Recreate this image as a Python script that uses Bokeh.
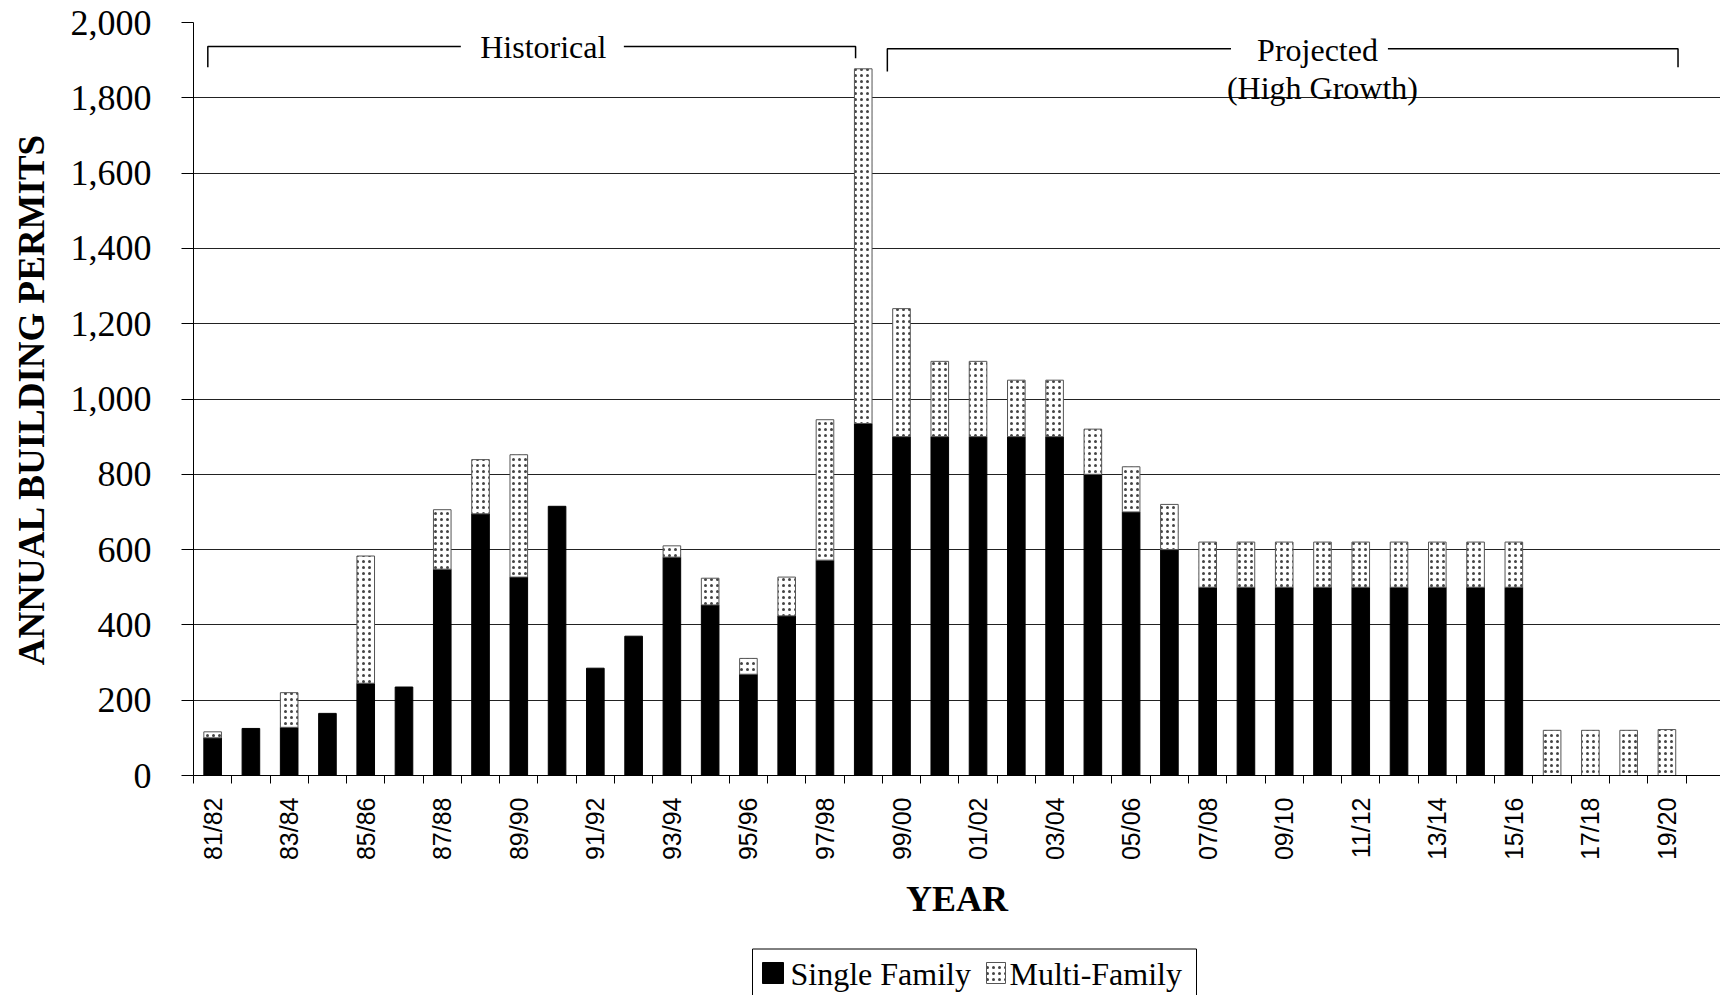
from math import pi

from bokeh.core.properties import value
from bokeh.embed import file_html
from bokeh.layouts import column
from bokeh.models import (ColumnDataSource, FixedTicker, Label,
                          NumeralTickFormatter, Range1d)
from bokeh.plotting import figure
from bokeh.resources import INLINE

# Fiscal years, one bar each
years = [
    "81/82", "82/83", "83/84", "84/85", "85/86", "86/87", "87/88", "88/89",
    "89/90", "90/91", "91/92", "92/93", "93/94", "94/95", "95/96", "96/97",
    "97/98", "98/99", "99/00", "00/01", "01/02", "02/03", "03/04", "04/05",
    "05/06", "06/07", "07/08", "08/09", "09/10", "10/11", "11/12", "12/13",
    "13/14", "14/15", "15/16", "16/17", "17/18", "18/19", "19/20",
]

# Annual building permits by type
single_family = [
    100, 125, 128, 165, 245, 235, 548, 695,
    527, 715, 285, 370, 580, 453, 269, 424,
    572, 935, 900, 900, 900, 900, 900, 800,
    700, 600, 500, 500, 500, 500, 500, 500,
    500, 500, 500, 0, 0, 0, 0,
]
multi_family = [
    16, 0, 92, 0, 338, 0, 158, 144,
    325, 0, 0, 0, 30, 71, 42, 103,
    373, 942, 340, 200, 200, 150, 150, 120,
    120, 120, 120, 120, 120, 120, 120, 120,
    120, 120, 120, 120, 120, 120, 122,
]

series_names = ["Single Family", "Multi-Family"]

# Every other year is labelled on the axis
label_years = years[::2]

y_ticks = list(range(0, 2001, 200))

SERIF = "Liberation Serif"
SANS = "Liberation Sans"

SF_STYLE = dict(fill_color="black", line_color="black", line_width=1)
MF_STYLE = dict(fill_color="white", line_color="#555555", line_width=1,
                hatch_pattern="dot", hatch_scale=6, hatch_weight=1.2,
                hatch_color="#444444")

FRAME_LEFT = 193
PAGE_W = 1720

idx = list(range(len(years)))

sf_src = ColumnDataSource(dict(
    x=[i for i in idx if single_family[i] > 0],
    top=[single_family[i] for i in idx if single_family[i] > 0],
))
mf_src = ColumnDataSource(dict(
    x=[i for i in idx if multi_family[i] > 0],
    bottom=[single_family[i] for i in idx if multi_family[i] > 0],
    top=[single_family[i] + multi_family[i] for i in idx if multi_family[i] > 0],
))

p = figure(
    width=PAGE_W, height=940,
    x_range=Range1d(-0.5, 39.4), y_range=Range1d(0, 2000),
    output_backend="svg", toolbar_location=None,
    min_border_left=FRAME_LEFT, min_border_right=0,
    min_border_top=22, min_border_bottom=165,
)
p.outline_line_color = None
p.background_fill_color = "white"
p.border_fill_color = "white"

# Gridlines
p.xgrid.visible = False
p.ygrid.ticker = FixedTicker(ticks=y_ticks)
p.ygrid.grid_line_color = "#222222"
p.ygrid.grid_line_width = 1

# Stacked bars
p.vbar(x="x", top="top", bottom=0, width=0.46, source=sf_src, **SF_STYLE)
p.vbar(x="x", top="top", bottom="bottom", width=0.46, source=mf_src,
       **MF_STYLE)

# Y axis
yax = p.yaxis[0]
yax.ticker = FixedTicker(ticks=y_ticks)
yax.formatter = NumeralTickFormatter(format="0,0")
yax.major_tick_out = 12
yax.major_tick_in = 0
yax.minor_tick_line_color = None
yax.axis_line_color = "black"
yax.major_tick_line_color = "black"
yax.major_label_standoff = 30
yax.major_label_text_font = SERIF
yax.major_label_text_font_size = "36px"
yax.major_label_text_color = "black"
yax.axis_label = "ANNUAL BUILDING PERMITS"
yax.axis_label_text_font = SERIF
yax.axis_label_text_font_size = "37px"
yax.axis_label_text_font_style = "bold"
yax.axis_label_text_color = "black"
yax.axis_label_standoff = 16

# X axis: labels on every other year, ticks between categories
xax = p.xaxis[0]
xax.ticker = FixedTicker(
    ticks=list(range(0, len(years), 2)),
    minor_ticks=[i - 0.5 for i in range(len(years) + 2)],
)
xax.major_label_overrides = {i * 2: lab for i, lab in enumerate(label_years)}
xax.major_tick_line_color = None
xax.major_tick_out = 0
xax.major_tick_in = 0
xax.minor_tick_line_color = "black"
xax.minor_tick_out = 8
xax.minor_tick_in = 0
xax.axis_line_color = "black"
xax.major_label_orientation = pi / 2
xax.major_label_standoff = 14
xax.major_label_text_font = SANS
xax.major_label_text_font_size = "25px"
xax.major_label_text_color = "black"
xax.axis_label = "YEAR"
xax.axis_label_text_font = SERIF
xax.axis_label_text_font_size = "36px"
xax.axis_label_text_font_style = "bold"
xax.axis_label_text_color = "black"
xax.axis_label_standoff = 16

# Period brackets across the top
p.multi_line(
    xs=[[-0.126, -0.126, 6.485], [10.745, 16.80, 16.80],
        [17.63, 17.63, 26.61], [30.71, 38.29, 38.29]],
    ys=[[1881, 1936, 1936], [1936, 1936, 1905],
        [1870, 1930, 1930], [1930, 1930, 1881]],
    line_color="black", line_width=1.5,
)

for txt, x, y in [("Historical", 8.64, 1934),
                  ("Projected", 28.87, 1926),
                  ("(High Growth)", 29.0, 1826)]:
    p.add_layout(Label(
        x=x, y=y, text=txt, text_align="center", text_baseline="middle",
        text_font=SERIF, text_font_size="32px", text_color="black",
    ))

# Legend strip under the chart; its frame lines up with the chart frame and
# its data units are page pixels (x from the left, y downward from the strip top)
leg = figure(
    width=PAGE_W, height=55,
    x_range=Range1d(FRAME_LEFT, PAGE_W), y_range=Range1d(55, 0),
    output_backend="svg", toolbar_location=None,
    min_border_left=FRAME_LEFT, min_border_right=0,
    min_border_top=0, min_border_bottom=0, outline_line_color=None,
)
leg.axis.visible = False
leg.grid.visible = False
leg.background_fill_color = "white"
leg.border_fill_color = "white"

leg.quad(left=[752], right=[1196], top=[8.5], bottom=[80],
         fill_color=None, line_color="black", line_width=1)
leg.quad(left=[762], right=[783], top=[22], bottom=[43], **SF_STYLE)
leg.quad(left=[986], right=[1005], top=[22], bottom=[43], **MF_STYLE)
leg.text(x=[790, 1009], y=[33, 33], text=series_names,
         text_font=value(SERIF), text_font_size="32px",
         text_color="black", text_baseline="middle", text_align="left")

open("out.html", "w").write(file_html(column(p, leg, spacing=0), INLINE))
